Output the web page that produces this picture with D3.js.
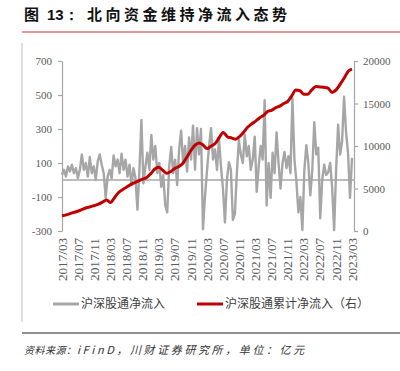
<!DOCTYPE html>
<html>
<head>
<meta charset="utf-8">
<script src="https://cdn.jsdelivr.net/npm/d3@7"></script>
<style>
  body { margin: 0; background: #fff; }
  .serif text { font-family: "Liberation Serif", "Times New Roman", "DejaVu Serif", serif; }
</style>
</head>
<body>
<div id="chart"></div>
<script>
const tickLabels = ["2017/03", "2017/07", "2017/11", "2018/03", "2018/07", "2018/11",
  "2019/03", "2019/07", "2019/11", "2020/03", "2020/07", "2020/11",
  "2021/03", "2021/07", "2021/11", "2022/03", "2022/07", "2022/11", "2023/03"];
const leftTicks = [700, 500, 300, 100, -100, -300];
const rightTicks = [20000, 15000, 10000, 5000, 0];

// 沪深股通净流入 (roughly half-monthly readings, 亿元)
const flowValues = [
  30, 60, 20, 80, 50, 90, 40, 70, 10, 60,
  150, 60, 100, 20, 135, 40, 80, 0, 110, 150,
  90, 40, -105, 20, 60, 10, 145, 80, 120, 40,
  155, 60, 120, 20, 90, -30, 70, 10, -175, 60,
  353, -20, 80, 160, 60, 265, 120, 200, 40, 100,
  -40, 30, -150, -190, 80, 195, 40, 120, -30, 180,
  290, 100, 200, 50, 250, 120, 320, 60, 305, 150,
  300, -290, -100, 60, 200, 305, 120, 180, 60, 245,
  80, -50, -250, 0, 105, 60, -235, -200, 40, 235,
  150, 100, 265, 140, 200, 60, 120, 255, -70, 80,
  200, 120, 470, -150, 100, -105, 160, 40, 280, 100,
  -50, 100, 165, 70, 140, 40, 480, 120, -10, -190,
  -100, -295, 60, 205, 100, -90, 60, 340, 150, 190,
  -225, 0, 90, 30, 45, 100, -45, -295, 60, 325,
  150, 225, 490, 280, 160, -105, 130
];

// 沪深股通累计净流入 (monthly, 亿元)
const cumValues = [
  1790, 1900, 2050, 2200, 2350, 2550, 2740, 2850, 3000, 3150,
  3400, 3650, 3350, 3900, 4500, 4850, 5150, 5450, 5700, 5900,
  6100, 6300, 6750, 7300, 7500, 7150, 6800, 7000, 7350, 7600,
  7980, 8700, 9500, 10100, 10360, 10100, 9700, 10000, 10300, 11000,
  11600, 11100, 10950, 10800, 11100, 11600, 12200, 12600, 12900, 13300,
  13600, 14050, 14200, 14500, 14700, 15000, 15250, 15900, 16600, 16500,
  16100, 16100, 16600, 17000, 16950, 16900, 16800, 16300, 16600, 17250,
  18000, 18800, 19050
];

const width = 400;
const height = 371;
const plot = { left: 62, right: 352, top: 61, bottom: 231 };

const svg = d3.select("#chart")
  .append("svg")
  .attr("width", width)
  .attr("height", height);

const parseMonth = d3.timeParse("%Y/%m");
const start = parseMonth(tickLabels[0]);
const end = parseMonth(tickLabels[tickLabels.length - 1]);
const spanDays = d3.timeDay.count(start, end);

const flowData = flowValues.map((v, i) => ({
  date: d3.timeDay.offset(start, Math.round(i * spanDays / (flowValues.length - 1))),
  value: v
}));
const cumData = cumValues.map((v, i) => ({ date: d3.timeMonth.offset(start, i), value: v }));

const x = d3.scaleTime().domain([start, end]).range([plot.left, plot.right]);
const yL = d3.scaleLinear().domain([-300, 700]).range([plot.bottom, plot.top]);
const yR = d3.scaleLinear().domain([0, 20000]).range([plot.bottom, plot.top]);

const axisGray = "#a6a6a6";
const labelColor = "#595959";
const cjk = "'Noto Sans CJK SC', sans-serif";

// title
svg.append("text").attr("x", 24).attr("y", 20)
  .style("font-family", cjk).style("font-size", "15px").style("font-weight", "bold")
  .attr("fill", "#111").text("图");
svg.append("text").attr("x", 47).attr("y", 20)
  .style("font-family", "'Liberation Sans', Arial, sans-serif").style("font-size", "15px").style("font-weight", "bold")
  .attr("fill", "#111").text("13：");
svg.append("text").attr("x", 87).attr("y", 20)
  .style("font-family", cjk).style("font-size", "15px").style("font-weight", "bold")
  .style("letter-spacing", "3.5px")
  .attr("fill", "#111").text("北向资金维持净流入态势");

svg.append("line").attr("x1", 22).attr("x2", 400).attr("y1", 32).attr("y2", 32)
  .attr("stroke", "#e07070").attr("stroke-width", 1.5);
svg.append("line").attr("x1", 22).attr("x2", 22).attr("y1", 43).attr("y2", 322)
  .attr("stroke", "#bfbfbf").attr("stroke-width", 1);
svg.append("line").attr("x1", 22).attr("x2", 400).attr("y1", 333).attr("y2", 333)
  .attr("stroke", "#222").attr("stroke-width", 1.2);

// axes
function styleAxis(g) {
  g.attr("class", "serif").attr("font-family", null);
  g.select(".domain").attr("stroke", axisGray).attr("stroke-width", 1.2);
  g.selectAll(".tick line").attr("stroke", axisGray).attr("stroke-width", 1.2);
  g.selectAll(".tick text")
    .attr("fill", labelColor)
    .attr("font-size", 11);
}

svg.append("g")
  .attr("transform", `translate(${plot.left},0)`)
  .call(d3.axisLeft(yL).tickValues(leftTicks).tickFormat(d => String(d))
    .tickSize(4).tickSizeOuter(0).tickPadding(6))
  .call(styleAxis);

svg.append("g")
  .attr("transform", `translate(354,0)`)
  .call(d3.axisRight(yR).tickValues(rightTicks).tickFormat(d => String(d))
    .tickSize(4).tickSizeOuter(0).tickPadding(5))
  .call(styleAxis);

const xAxis = svg.append("g")
  .attr("transform", `translate(0,238)`)
  .call(d3.axisBottom(x).tickValues(tickLabels.map(parseMonth)).tickFormat(d3.timeFormat("%Y/%m")).tickSize(0))
  .call(styleAxis);
xAxis.select(".domain").remove();
xAxis.selectAll(".tick text")
  .attr("y", 0)
  .attr("x", 0)
  .attr("dy", "0.35em")
  .attr("transform", "rotate(-90)")
  .attr("text-anchor", "end")
  .attr("font-size", 11.5)
  .attr("textLength", 43)
  .attr("lengthAdjust", "spacingAndGlyphs");

// zero line
svg.append("line")
  .attr("x1", plot.left).attr("x2", 354)
  .attr("y1", yL(0)).attr("y2", yL(0))
  .attr("stroke", axisGray).attr("stroke-width", 1.5);

const flowLine = d3.line().x(d => x(d.date)).y(d => yL(d.value));
const cumLine = d3.line().x(d => x(d.date)).y(d => yR(d.value)).curve(d3.curveMonotoneX);

svg.append("path").datum(flowData)
  .attr("fill", "none").attr("stroke", "#a6a6a6").attr("stroke-width", 2.4)
  .attr("stroke-linejoin", "round")
  .attr("d", flowLine);

svg.append("path").datum(cumData)
  .attr("fill", "none").attr("stroke", "#c00000").attr("stroke-width", 3)
  .attr("stroke-linejoin", "round")
  .attr("d", cumLine);

// legend
const legend = [
  { label: "沪深股通净流入", color: "#a6a6a6", x: 53 },
  { label: "沪深股通累计净流入（右）", color: "#c00000", x: 197 }
];
legend.forEach(d => {
  svg.append("line").attr("x1", d.x).attr("x2", d.x + 26).attr("y1", 304).attr("y2", 304)
    .attr("stroke", d.color).attr("stroke-width", 3);
  svg.append("text").attr("x", d.x + 28).attr("y", 308)
    .style("font-family", cjk).style("font-size", "12px")
    .attr("fill", "#404040").text(d.label);
});

// source
svg.append("text").attr("x", 24).attr("y", 354)
  .style("font-family", cjk).style("font-size", "10px").style("font-style", "italic")
  .style("letter-spacing", "0.5px")
  .attr("fill", "#333").text("资料来源：");
svg.append("text").attr("x", 77).attr("y", 354)
  .style("font-family", cjk).style("font-size", "11px").style("font-style", "italic")
  .style("letter-spacing", "2.6px")
  .attr("fill", "#333").text("iFinD，川财证券研究所，单位：亿元");
</script>
</body>
</html>
